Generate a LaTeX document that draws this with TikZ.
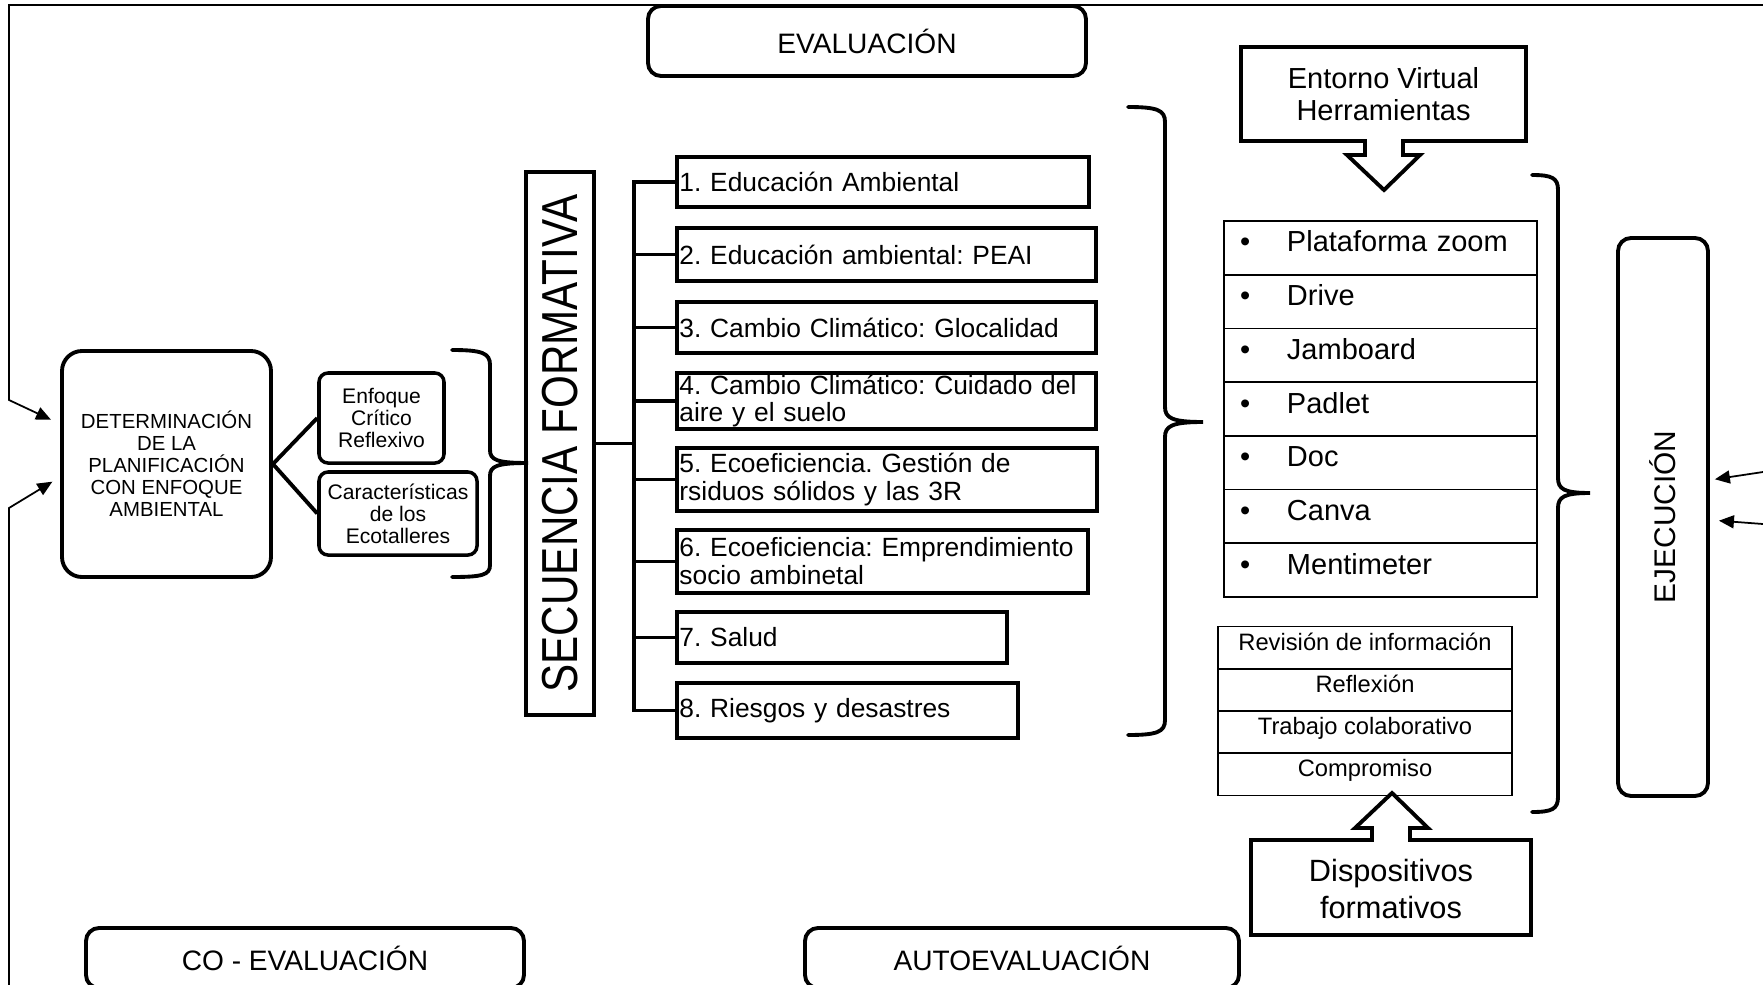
\documentclass[tikz,border=0pt]{standalone}
\usepackage{fontspec}
\setmainfont{Liberation Sans}
\usetikzlibrary{arrows.meta, positioning, calc}

\newcommand{\fsz}[2]{\fontsize{#1}{#2}\selectfont}

\begin{document}
\frenchspacing
\begin{tikzpicture}[
    x=0.2mm, y=-0.2mm,
    stage/.style={rectangle, draw, line width=2.2pt, rounded corners=2.6mm, fill=white, minimum height=14mm, font=\fsz{16}{19}},
    topic/.style={rectangle, draw, line width=2.2pt, anchor=west, inner xsep=0.5mm, inner ysep=0pt, align=left, font=\fsz{15}{15.9}},
    aspect/.style={rectangle, draw, line width=2pt, rounded corners=1.8mm, align=center, inner sep=0pt, font=\fsz{12}{12.5}},
    tool/.style={rectangle, draw, line width=1pt, outer sep=0pt, minimum width=62.6mm, minimum height=10.74mm, text width=56.2mm, inner xsep=3.2mm, align=left, text height=4.2mm, text depth=2.6mm, font=\fsz{16.5}{19}},
    device/.style={rectangle, draw, line width=1pt, outer sep=0pt, minimum width=58.8mm, minimum height=8.45mm, text height=3.4mm, text depth=2.4mm, font=\fsz{13.5}{15}},
    callout/.style={line width=2.2pt, line join=miter},
    link/.style={line width=2.2pt},
    brace/.style={line width=2.2pt, line cap=round},
    flow/.style={-{Triangle[length=3mm,width=2.6mm]}, line width=1pt},
]
\useasboundingbox (0,0) rectangle (1763,984);
\clip (0,0) rectangle (1763,984);

% Evaluation boxes
\node[stage, minimum width=87.6mm] (eval) at (867,41) {EVALUACIÓN};
\node[stage, minimum width=87.6mm, minimum height=12mm] (coeval) at (305,958) {CO - EVALUACIÓN};
\node[stage, minimum width=86.8mm, minimum height=12mm] (autoeval) at (1022,958) {AUTOEVALUACIÓN};

% Planning
\node[rectangle, draw, line width=2.2pt, rounded corners=4mm, minimum width=41.8mm, minimum height=45.2mm, align=center, font=\fsz{11.6}{12.5}] (det) at (166.5,464) {DETERMINACIÓN\\DE LA\\PLANIFICACIÓN\\CON ENFOQUE\\AMBIENTAL};
\node[aspect, minimum width=25mm, minimum height=18mm] (enf) at (381.5,418) {Enfoque\\Crítico\\Reflexivo};
\node[aspect, minimum width=31.6mm, minimum height=16.6mm] (car) at (398,513.5) {Características\\de los\\Ecotalleres};

\draw[link] (det.east) -- (enf.west);
\draw[link] (det.east) -- (car.west);

\draw[brace] (452,350) .. controls (482,350) and (490,353) .. (490,365) -- (490,450) .. controls (490,460) and (497,463) .. (528,463) .. controls (497,463) and (490,466) .. (490,476) -- (490,565) .. controls (490,575) and (482,577) .. (452,577);

% Training sequence
\node[rectangle, draw, line width=2.2pt, minimum width=13.6mm, minimum height=108.6mm, inner sep=0pt, font=\fsz{24}{24}] (sec) at (560,443.5) {\rotatebox{90}{\scalebox{1}[1.2]{SECUENCIA FORMATIVA}}};

\node[topic, text width=81.4mm, minimum height=10mm] (i1) at (675,182) {1. Educación Ambiental};
\node[topic, text width=82.8mm, minimum height=10.6mm] (i2) at (675,254.5) {2. Educación ambiental: PEAI};
\node[topic, text width=82.8mm, minimum height=10.2mm] (i3) at (675,327.5) {3. Cambio Climático: Glocalidad};
\node[topic, text width=82.8mm, minimum height=11.2mm] (i4) at (675,401) {4. Cambio Climático: Cuidado del\\aire y el suelo};
\node[topic, text width=83mm, minimum height=12.6mm] (i5) at (675,479.5) {5. Ecoeficiencia. Gestión de\\rsiduos sólidos y las 3R};
\node[topic, text width=81.2mm, minimum height=12.6mm] (i6) at (675,561.5) {6. Ecoeficiencia: Emprendimiento\\socio ambinetal};
\node[topic, text width=65mm, minimum height=10.2mm] (i7) at (675,637.5) {7. Salud};
\node[topic, text width=67.2mm, minimum height=11mm] (i8) at (675,710.5) {8. Riesgos y desastres};

\coordinate (bus) at (634,443.5);
\draw[link] (sec.east) -- (bus);
\draw[link] (i1.west) -- (bus |- i1.west) -- (bus |- i8.west) -- (i8.west);
\draw[link] (bus |- i2.west) -- (i2.west);
\draw[link] (bus |- i3.west) -- (i3.west);
\draw[link] (bus |- i4.west) -- (i4.west);
\draw[link] (bus |- i5.west) -- (i5.west);
\draw[link] (bus |- i6.west) -- (i6.west);
\draw[link] (bus |- i7.west) -- (i7.west);

\draw[brace] (1128,107) .. controls (1157,107) and (1165,110) .. (1165,122) -- (1165,407) .. controls (1165,418) and (1172,422) .. (1203,422) .. controls (1172,422) and (1165,426) .. (1165,437) -- (1165,720) .. controls (1165,732) and (1157,735) .. (1128,735);

% Virtual environment
\draw[callout] (1241,47) -- (1526,47) -- (1526,141) -- (1403,141) -- (1403,155) -- (1420,155) -- (1384,190) -- (1347,155) -- (1365,155) -- (1365,141) -- (1241,141) -- cycle;
\node[align=center, font=\fsz{16.5}{18.2}] (entorno) at (1383.5,94) {Entorno Virtual\\Herramientas};

\node[tool] (t1) at (1380.5,247.9) {\makebox[9.4mm][l]{\textbullet}Plataforma zoom};
\node[tool, below=0pt of t1] (t2) {\makebox[9.4mm][l]{\textbullet}Drive};
\node[tool, below=0pt of t2] (t3) {\makebox[9.4mm][l]{\textbullet}Jamboard};
\node[tool, below=0pt of t3] (t4) {\makebox[9.4mm][l]{\textbullet}Padlet};
\node[tool, below=0pt of t4] (t5) {\makebox[9.4mm][l]{\textbullet}Doc};
\node[tool, below=0pt of t5] (t6) {\makebox[9.4mm][l]{\textbullet}Canva};
\node[tool, below=0pt of t6] (t7) {\makebox[9.4mm][l]{\textbullet}Mentimeter};

% Formative devices
\node[device] (d1) at (1365,647.5) {Revisión de información};
\node[device, below=0pt of d1] (d2) {Reflexión};
\node[device, below=0pt of d2] (d3) {Trabajo colaborativo};
\node[device, below=0pt of d3] (d4) {Compromiso};

\draw[callout] (1251,935) -- (1251,840) -- (1372,840) -- (1372,828) -- (1355,828) -- (1392,793) -- (1428,828) -- (1410,828) -- (1410,840) -- (1531,840) -- (1531,935) -- cycle;
\node[align=center, font=\fsz{17.5}{21.5}] (disp) at (1391,889) {Dispositivos\\formativos};

\draw[brace] (1532,175) .. controls (1552,175) and (1558,178) .. (1558,190) -- (1558,478) .. controls (1558,489) and (1564,493) .. (1590,493) .. controls (1564,493) and (1558,497) .. (1558,508) -- (1558,797) .. controls (1558,809) and (1552,812) .. (1532,812);

% Execution
\node[rectangle, draw, line width=2.2pt, rounded corners=2.6mm, minimum width=18mm, minimum height=111.6mm, font=\fsz{17}{17}] (ejec) at (1663,517) {\rotatebox{90}{EJECUCIÓN}};

% Feedback lines
\coordinate (topR) at (1763,5);
\coordinate (botL) at (9,990);
\coordinate (ra1) at (1763,472);
\coordinate (ra2) at (1763,524);
\draw[flow, shorten >=2mm] (topR) -- (9,5) -- (9,400) -- ($(det.west)+(0,-40)$);
\draw[flow, shorten >=1.8mm] (botL) -- (9,508) -- ($(det.west)+(0,13)$);
\draw[flow, shorten >=1mm] (ra1) -- ($(ejec.east)+(0,-37)$);
\draw[flow, shorten >=1.8mm] (ra2) -- ($(ejec.east)+(0,3)$);

\end{tikzpicture}
\end{document}
